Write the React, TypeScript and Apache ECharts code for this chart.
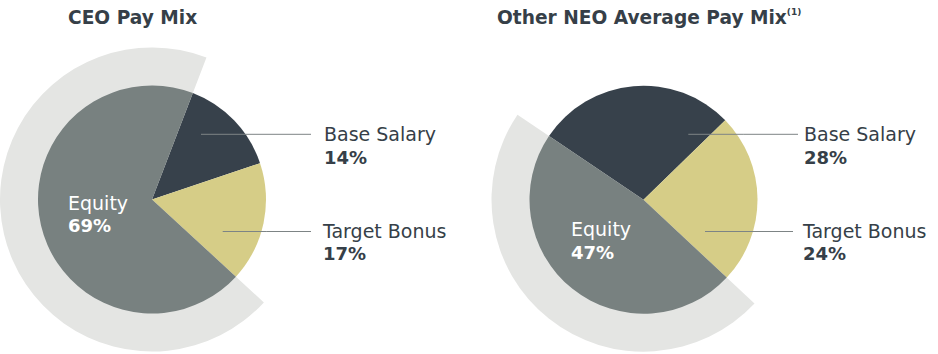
import React, { useEffect, useRef } from "react";
import * as echarts from "echarts";

const categories = ["Base Salary", "Target Bonus", "Equity"];
const ceoValues = [14, 17, 69];
const neoValues = [28, 24, 47];
const chartTitles = ["CEO Pay Mix", "Other NEO Average Pay Mix"];
const titleFootnote = "(1)";

const COLORS = ["#37414b", "#d6cd87", "#788180"];
const BG = "#e4e5e3";
const TEXT = "#363f48";
const FONT = "'DejaVu Sans', sans-serif";

// layout per chart (pixels)
const layouts = [
  {
    center: [152, 199.5],
    startAngle: 69,
    lineStart: [201, 222.7],
    lineEnd: [311, 311],
    textX: [324, 323],
    textY: [145.6, 242.4],
    equityX: 68,
    equityY: 214,
  },
  {
    center: [643.5, 199.7],
    startAngle: 146,
    lineStart: [688.3, 705],
    lineEnd: [798, 793],
    textX: [804, 803],
    textY: [145.6, 242.4],
    equityX: 571,
    equityY: 240.8,
  },
];

export default function App() {
  const ref = useRef<HTMLDivElement>(null);
  useEffect(() => {
    document.body.style.margin = "0";
    const chart = echarts.init(ref.current!, undefined, { renderer: "svg" });
    const datasets = [ceoValues, neoValues];
    const series: any[] = [];
    datasets.forEach((vals, ci) => {
      const L = layouts[ci];
      // background sector behind equity
      series.push({
        type: "pie",
        silent: true,
        center: L.center,
        radius: 152,
        startAngle: L.startAngle,
        clockwise: true,
        z: 1,
        label: { show: false },
        labelLine: { show: false },
        data: categories.map((c, i) => ({
          name: c,
          value: vals[i],
          itemStyle: { color: i === 2 ? BG : "rgba(0,0,0,0)" },
        })),
      });
      // main pie
      series.push({
        type: "pie",
        silent: true,
        center: L.center,
        radius: 114,
        startAngle: L.startAngle,
        clockwise: true,
        z: 2,
        label: { show: false },
        labelLine: { show: false },
        data: categories.map((c, i) => ({
          name: c,
          value: vals[i],
          itemStyle: { color: COLORS[i] },
        })),
      });
      // label layer on top
      series.push({
        type: "pie",
        silent: true,
        center: L.center,
        radius: 114,
        startAngle: L.startAngle,
        clockwise: true,
        z: 3,
        avoidLabelOverlap: false,
        label: {
          show: true,
          position: "outside",
          fontFamily: FONT,
          formatter: (p: any) => `{n|${p.name}}\n{v|${p.value}%}`,
          rich: {
            n: { fontSize: 19, fontFamily: FONT, color: TEXT, lineHeight: 23 },
            v: { fontSize: 18, fontFamily: FONT, fontWeight: "bold", color: TEXT, lineHeight: 23 },
          },
        },
        labelLine: { show: true, lineStyle: { color: "#7d8485", width: 1 } },
        labelLayout: (params: any) => {
          const i = params.dataIndex;
          if (i === 2) {
            return { x: L.equityX, y: L.equityY, align: "left", verticalAlign: "middle" };
          }
          const y = i === 0 ? 134.3 : 231.5;
          return {
            x: L.textX[i],
            y: L.textY[i],
            align: "left",
            verticalAlign: "middle",
            labelLinePoints: [
              [L.lineStart[i], y],
              [(L.lineStart[i] + L.lineEnd[i]) / 2, y],
              [L.lineEnd[i], y],
            ],
          };
        },
        data: categories.map((c, i) => ({
          name: c,
          value: vals[i],
          itemStyle: { color: "rgba(0,0,0,0)" },
          ...(i === 2
            ? {
                label: {
                  position: "inside",
                  rich: {
                    n: { fontSize: 19, fontFamily: FONT, color: "#ffffff", lineHeight: 23 },
                    v: { fontSize: 18, fontFamily: FONT, fontWeight: "bold", color: "#ffffff", lineHeight: 23 },
                  },
                },
                labelLine: { show: false },
              }
            : {}),
        })),
      });
    });

    chart.setOption({
      animation: false,
      title: [
        {
          text: `{t|${chartTitles[0]}}`,
          left: 68,
          top: 6,
          padding: 0,
          textStyle: {
            rich: {
              t: { fontFamily: FONT, fontSize: 18.6, fontWeight: "bold", color: TEXT, lineHeight: 23 },
            },
          },
        },
        {
          text: `{t|${chartTitles[1]}}{s|${titleFootnote}}`,
          left: 497,
          top: 6,
          padding: 0,
          textStyle: {
            rich: {
              t: { fontFamily: FONT, fontSize: 18.6, fontWeight: "bold", color: TEXT, lineHeight: 23 },
              s: { fontFamily: FONT, fontSize: 9, fontWeight: "bold", color: TEXT, lineHeight: 23, padding: [0, 0, 12, 0] },
            },
          },
        },
      ],
      series,
    });
    return () => chart.dispose();
  }, []);
  return <div ref={ref} style={{ width: 938, height: 354 }} />;
}
